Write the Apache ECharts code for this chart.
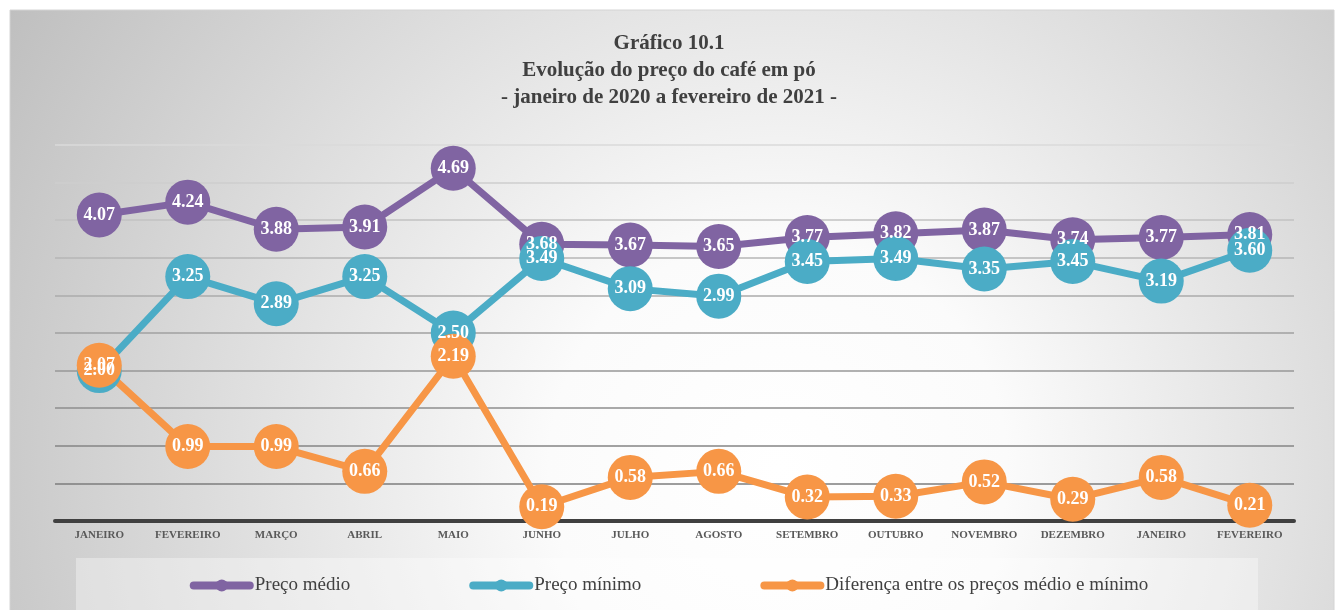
<!DOCTYPE html>
<html>
<head>
<meta charset="utf-8">
<script src="https://cdn.jsdelivr.net/npm/echarts@6/dist/echarts.min.js"></script>
<style>
  html, body { margin: 0; padding: 0; background: #fff; }
  #main { position: absolute; left: 0; top: 0; width: 1338px; height: 610px; }
</style>
</head>
<body>
<div id="main"></div>
<script>
const meses = ['JANEIRO', 'FEVEREIRO', 'MARÇO', 'ABRIL', 'MAIO', 'JUNHO', 'JULHO',
  'AGOSTO', 'SETEMBRO', 'OUTUBRO', 'NOVEMBRO', 'DEZEMBRO', 'JANEIRO', 'FEVEREIRO'];
const precoMedio = [4.07, 4.24, 3.88, 3.91, 4.69, 3.68, 3.67, 3.65, 3.77, 3.82, 3.87, 3.74, 3.77, 3.81];
const precoMinimo = [2.00, 3.25, 2.89, 3.25, 2.50, 3.49, 3.09, 2.99, 3.45, 3.49, 3.35, 3.45, 3.19, 3.60];
const diferenca = [2.07, 0.99, 0.99, 0.66, 2.19, 0.19, 0.58, 0.66, 0.32, 0.33, 0.52, 0.29, 0.58, 0.21];

const SERIF = '"Liberation Serif", "DejaVu Serif", serif';

// grid lines get lighter toward the top
const gridColors = ['#404040', '#7d7d7d', '#858585', '#8e8e8e', '#979797', '#a1a1a1',
  '#ababab', '#b6b6b6', '#c2c2c2', '#cecece', '#dadada'];

function serie(name, data, color) {
  return {
    name: name,
    type: 'line',
    data: data,
    symbol: 'circle',
    symbolSize: 45,
    lineStyle: { color: color, width: 7 },
    itemStyle: { color: color },
    label: {
      show: true,
      position: 'inside',
      color: '#fff',
      fontFamily: SERIF,
      fontWeight: 'bold',
      fontSize: 18,
      formatter: p => p.value.toFixed(2)
    },
    emphasis: { disabled: true },
    animation: false
  };
}

const chart = echarts.init(document.getElementById('main'));
chart.setOption({
  backgroundColor: '#fff',
  graphic: [
    {
      type: 'rect',
      z: -10,
      shape: { x: 10, y: 10, width: 1324, height: 610 },
      style: {
        fill: {
          type: 'radial', x: 0.58, y: 0.75, r: 1.5,
          colorStops: [
            { offset: 0, color: '#ffffff' },
            { offset: 0.25, color: '#fbfbfb' },
            { offset: 0.6, color: '#dedede' },
            { offset: 1, color: '#bdbdbd' }
          ]
        },
        stroke: '#d4d4d4', lineWidth: 1
      },
      silent: true
    },
    {
      type: 'rect',
      z: -5,
      shape: { x: 76, y: 558, width: 1182, height: 60 },
      style: { fill: 'rgba(255,255,255,0.35)' },
      silent: true
    }
  ],
  title: {
    text: 'Gráfico 10.1\nEvolução do preço do café em pó\n- janeiro de 2020 a fevereiro de 2021 -',
    left: 'center',
    top: 25,
    textStyle: {
      fontFamily: SERIF,
      fontWeight: 'bold',
      fontSize: 21,
      lineHeight: 27,
      color: '#404040'
    }
  },
  legend: {
    bottom: 10,
    left: 'center',
    itemWidth: 56,
    itemHeight: 15,
    itemGap: 119,
    lineStyle: { width: 8, cap: 'round' },
    textStyle: { fontFamily: SERIF, fontSize: 19, color: '#404040' },
    data: ['Preço médio', 'Preço mínimo', 'Diferença entre os preços médio e mínimo']
  },
  grid: { left: 55, right: 44, top: 145, bottom: 89 },
  xAxis: {
    type: 'category',
    data: meses,
    boundaryGap: true,
    axisLine: { lineStyle: { color: '#404040', width: 4 } },
    axisTick: { show: false },
    axisLabel: {
      fontFamily: SERIF,
      fontWeight: 'bold',
      fontSize: 11,
      color: '#595959',
      margin: 9,
      interval: 0
    }
  },
  yAxis: {
    type: 'value',
    min: 0,
    max: 5,
    interval: 0.5,
    axisLabel: { show: false },
    axisLine: { show: false },
    axisTick: { show: false },
    splitLine: { lineStyle: { color: gridColors, width: 1.5 } }
  },
  series: [
    serie('Preço médio', precoMedio, '#8064a2'),
    serie('Preço mínimo', precoMinimo, '#4bacc6'),
    serie('Diferença entre os preços médio e mínimo', diferenca, '#f79646')
  ]
});
</script>
</body>
</html>
